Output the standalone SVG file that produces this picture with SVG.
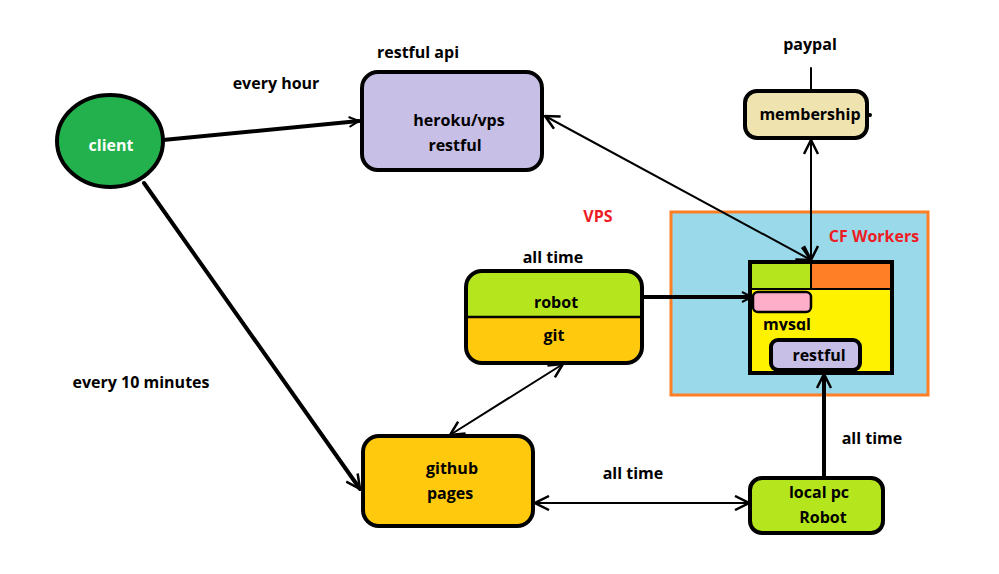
<svg xmlns="http://www.w3.org/2000/svg" width="999" height="574" viewBox="0 0 999 574">
<style>
text{font-family:"Open Sans","Noto Sans","DejaVu Sans",sans-serif;font-weight:700;font-size:16px;fill:#000;text-anchor:middle}
.w{fill:#fff}
.r{fill:#ed1c24;font-size:16px}
.n{stroke:#000;stroke-width:4}
.c{stroke:#000;fill:none;stroke-linecap:round}
.t2{stroke-width:2}
.t4{stroke-width:4}
</style>
<defs>
<marker id="a" viewBox="0 0 12 12" refX="11" refY="6" markerWidth="12" markerHeight="12" markerUnits="userSpaceOnUse" orient="auto-start-reverse">
<path d="M1,1 L11,6 L1,11" fill="none" stroke="#000" stroke-width="2"/>
</marker>
<marker id="b" viewBox="0 0 16 16" refX="15" refY="8" markerWidth="16" markerHeight="16" markerUnits="userSpaceOnUse" orient="auto-start-reverse">
<path d="M1,1 L15,8 L1,15" fill="none" stroke="#000" stroke-width="2.5"/>
</marker>
<clipPath id="cut"><rect x="750" y="300" width="80" height="30.5"/></clipPath>
</defs>
<rect width="999" height="574" fill="#fff"/>

<g id="cf-workers">
<rect x="671" y="212" width="257" height="183" fill="#99d9ea" stroke="#ff7f27" stroke-width="3"/>
<text x="874" y="242" class="r">CF Workers</text>
</g>

<g id="connectors">
<line x1="163" y1="140" x2="359" y2="121" class="c t4" marker-end="url(#a)"/>
<line x1="144" y1="183" x2="360" y2="489" class="c t4" marker-end="url(#b)"/>
<line x1="545" y1="116" x2="811" y2="260" class="c t2" marker-start="url(#b)" marker-end="url(#b)"/>
<line x1="811" y1="68" x2="811" y2="91" class="c t2"/>
<line x1="867" y1="115" x2="870" y2="115" class="c t4"/>
<line x1="811" y1="140" x2="811" y2="260" class="c t2" marker-start="url(#b)" marker-end="url(#b)"/>
<line x1="642" y1="297" x2="752" y2="297" class="c t4" marker-end="url(#a)"/>
<line x1="563" y1="364" x2="450" y2="435" class="c t2" marker-start="url(#b)" marker-end="url(#b)"/>
<line x1="535" y1="503" x2="749" y2="503" class="c t2" marker-start="url(#b)" marker-end="url(#b)"/>
<line x1="824" y1="476" x2="824" y2="374" class="c t4" marker-end="url(#b)"/>
</g>

<g id="client">
<ellipse cx="110" cy="141" rx="53" ry="46" fill="#22b14c" class="n"/>
<text x="111" y="151" class="w">client</text>
</g>

<g id="heroku">
<rect x="362" y="72" width="180" height="98" rx="16" fill="#c8bfe7" class="n"/>
<text x="459" y="126">heroku/vps</text>
<text x="455" y="151">restful</text>
</g>

<g id="membership">
<rect x="745" y="91" width="122" height="47" rx="12" fill="#efe4b0" class="n"/>
<text x="810" y="120">membership</text>
</g>

<g id="robot-git">
<path d="M466,317 V287 A16,16 0 0 1 482,271 H626 A16,16 0 0 1 642,287 V317 Z" fill="#b5e61d"/>
<path d="M466,317 V347 A16,16 0 0 0 482,363 H626 A16,16 0 0 0 642,347 V317 Z" fill="#ffc90e"/>
<rect x="466" y="271" width="176" height="92" rx="16" fill="none" class="n"/>
<line x1="466" y1="317" x2="642" y2="317" stroke="#000" stroke-width="2.5"/>
<text x="556" y="308">robot</text>
<text x="554" y="341">git</text>
</g>

<g id="database">
<rect x="750" y="262" width="142" height="111" fill="#fff200" class="n"/>
<rect x="752" y="264" width="59" height="25" fill="#b5e61d"/>
<rect x="811" y="264" width="79" height="25" fill="#ff7f27"/>
<line x1="750" y1="289" x2="892" y2="289" stroke="#000" stroke-width="2"/>
<line x1="811" y1="264" x2="811" y2="289" stroke="#000" stroke-width="2"/>
<rect x="753" y="292" width="58" height="20" rx="5" fill="#ffaec9" stroke="#000" stroke-width="2.5"/>
<text x="787" y="330" clip-path="url(#cut)">mysql</text>
<rect x="771" y="340" width="89" height="30" rx="7" fill="#c8bfe7" class="n"/>
<text x="819" y="361">restful</text>
</g>

<g id="github-pages">
<rect x="363" y="436" width="170" height="90" rx="16" fill="#ffc90e" class="n"/>
<text x="452" y="474">github</text>
<text x="450" y="499">pages</text>
</g>

<g id="local-pc">
<rect x="750" y="478" width="133" height="55" rx="12" fill="#b5e61d" class="n"/>
<text x="819" y="498">local pc</text>
<text x="823" y="523">Robot</text>
</g>

<g id="labels">
<text x="418" y="58">restful api</text>
<text x="276" y="89">every hour</text>
<text x="810" y="50">paypal</text>
<text x="598" y="222" class="r">VPS</text>
<text x="553" y="263">all time</text>
<text x="141" y="388">every 10 minutes</text>
<text x="633" y="479">all time</text>
<text x="872" y="444">all time</text>
</g>
</svg>
